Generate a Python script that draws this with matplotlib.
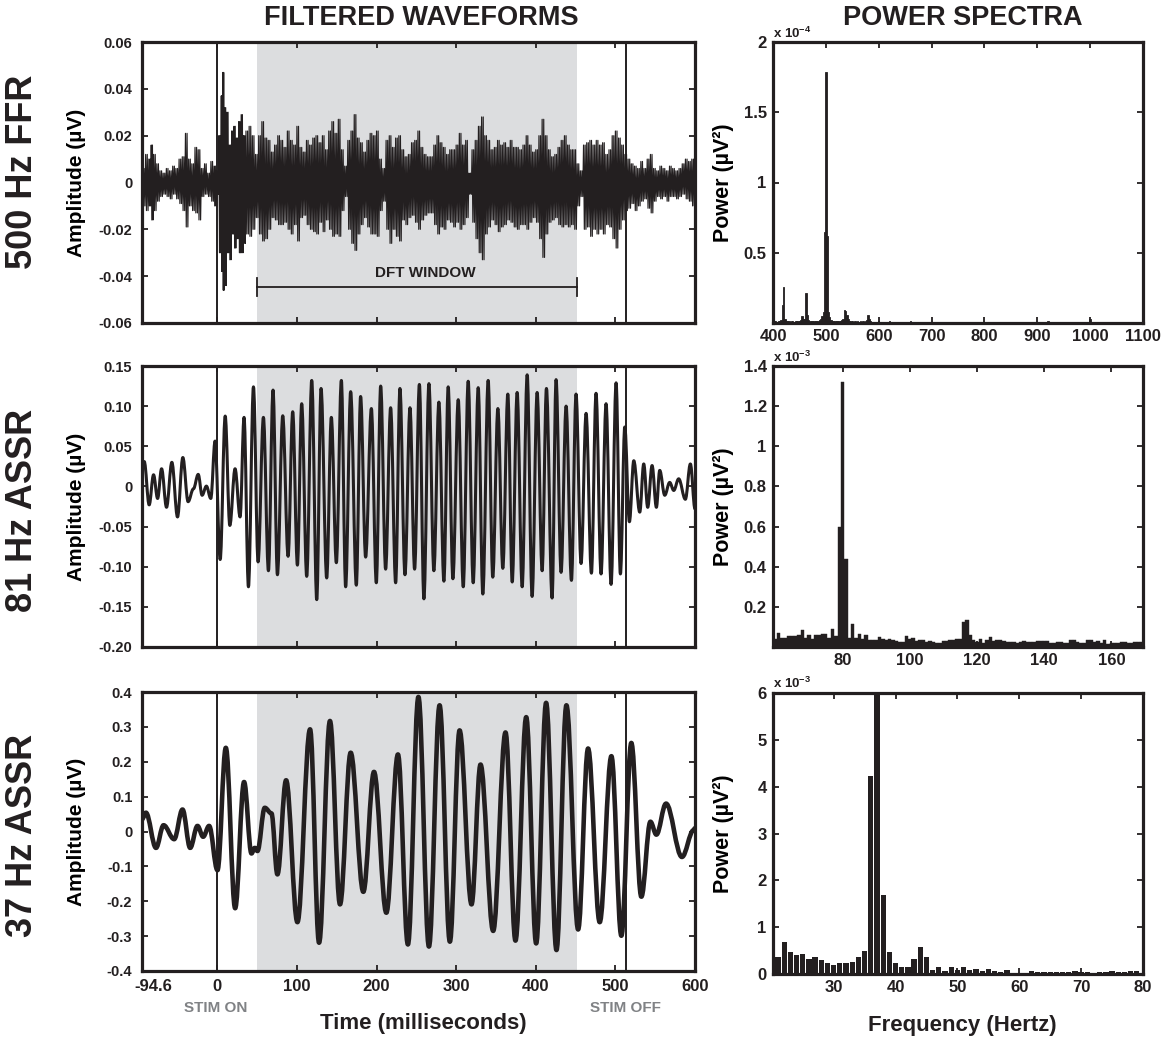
import numpy as np
import matplotlib
matplotlib.use("Agg")
import matplotlib.pyplot as plt
from matplotlib.path import Path
from matplotlib.patches import PathPatch
import matplotlib.transforms as mtransforms

# ------------------------------------------------------------------ data
# 500 Hz FFR : envelope (upper / lower extent) of the filtered waveform
ffr_t = [-94, -90, -86, -83, -80, -76, -72, -68, -64, -60, -56, -52, -48, -44, -40, -36, -32, -28, -24, -20,
         -16, -12, -8, -4, -1,
         2, 5, 7, 9, 12, 15, 18, 21, 24, 27, 30, 33, 36, 40, 44, 48, 52, 56, 60, 64, 68, 72, 76, 80,
         84, 88, 92, 96, 100, 104, 108, 112, 116, 120, 124, 128, 132, 136, 140, 144, 148, 152, 156, 160,
         164, 168, 172, 176, 180, 184, 188, 192, 196, 200, 204, 208, 212, 216, 220, 224, 228, 232, 236, 240,
         244, 248, 252, 256, 260, 264, 268, 272, 276, 280, 284, 288, 292, 296, 300, 304, 308, 312, 316, 320,
         324, 328, 332, 336, 340, 344, 348, 352, 356, 360, 364, 368, 372, 376, 380, 384, 388, 392, 396, 400,
         404, 408, 412, 416, 420, 424, 428, 432, 436, 440, 444, 448, 452, 456, 460, 464, 468, 472, 476, 480,
         484, 488, 492, 496, 500, 504, 508, 512, 516, 520, 524, 528, 532, 536, 540, 544, 548, 552, 556, 560,
         564, 568, 572, 576, 580, 584, 588, 592, 596, 600]
ffr_up = [.006, .012, .010, .016, .012, .008, .005, .004, .006, .005, .007, .006, .010, .011, .021, .010, .008, .015, .014, .006,
          .008, .004, .009, .007, .005,
          .020, .037, .047, .032, .030, .016, .022, .024, .019, .026, .029, .020, .022, .024, .020, .012, .020, .026, .019, .018, .013, .016, .020, .018,
          .015, .022, .018, .016, .024, .015, .013, .018, .016, .019, .020, .017, .020, .014, .022, .026, .021, .027, .014, .007,
          .018, .022, .029, .019, .017, .013, .018, .021, .020, .022, .010, .006, .018, .020, .015, .019, .020, .014, .011, .012,
          .017, .018, .022, .015, .012, .011, .011, .016, .020, .017, .015, .012, .014, .014, .016, .021, .016, .018, .004, .014,
          .018, .024, .028, .020, .018, .014, .015, .018, .016, .017, .015, .018, .015, .015, .014, .016, .020, .016, .013, .014,
          .020, .027, .020, .014, .011, .012, .015, .018, .020, .016, .014, .014, .008, .005, .016, .017, .018, .016, .018, .016,
          .017, .012, .014, .020, .022, .019, .016, .012, .010, .008, .007, .006, .009, .006, .010, .012, .006, .005, .007, .006,
          .005, .007, .006, .005, .006, .008, .010, .009, .010, .008]
ffr_lo = [-.010, -.012, -.010, -.016, -.012, -.008, -.006, -.005, -.006, -.007, -.005, -.007, -.009, -.012, -.019, -.010, -.012, -.013, -.016, -.006,
          -.005, -.006, -.008, -.010, -.005,
          -.030, -.038, -.046, -.044, -.030, -.033, -.022, -.028, -.024, -.030, -.030, -.026, -.022, -.023, -.020, -.015, -.022, -.025, -.024, -.020, -.015, -.016, -.018, -.018,
          -.017, -.020, -.022, -.018, -.025, -.015, -.014, -.018, -.020, -.021, -.022, -.017, -.021, -.016, -.020, -.023, -.022, -.023, -.012, -.006,
          -.020, -.026, -.029, -.022, -.018, -.015, -.019, -.022, -.022, -.023, -.012, -.008, -.020, -.026, -.020, -.023, -.025, -.016, -.018, -.015,
          -.014, -.017, -.020, -.016, -.014, -.013, -.013, -.018, -.022, -.019, -.020, -.016, -.017, -.019, -.017, -.020, -.018, -.015, -.005, -.017,
          -.024, -.030, -.033, -.022, -.019, -.016, -.018, -.021, -.019, -.018, -.016, -.017, -.019, -.020, -.018, -.018, -.020, -.017, -.015, -.017,
          -.024, -.032, -.022, -.017, -.016, -.015, -.018, -.019, -.018, -.019, -.018, -.020, -.010, -.006, -.020, -.019, -.023, -.020, -.022, -.020,
          -.022, -.018, -.019, -.024, -.028, -.020, -.016, -.012, -.011, -.009, -.012, -.010, -.008, -.007, -.011, -.013, -.008, -.006, -.007, -.006,
          -.008, -.006, -.006, -.007, -.006, -.005, -.007, -.008, -.010, -.011]

# 81 Hz ASSR : successive peaks / troughs (time ms, amplitude uV)
a81_t = [-94.6, -91.8, -85.6, -80.1, -75.0, -70.0, -63.8, -57.1, -50.0, -43.3, -36.7, -30.0, -24.0, -19.1, -13.7, -8.2,
         -2.8, 3.6, 9.9, 15.7, 22.3, 28.6, 33.6, 39.1, 45.4, 51.2, 57.9, 64.2, 70.0, 75.5, 82.2, 88.9, 94.7, 100.6,
         106.0, 112.3, 118.6, 124.9, 130.3, 137.4, 143.2, 149.5, 155.8, 161.2, 167.5, 174.6, 180.0, 186.3, 193.5,
         199.7, 205.2, 211.4, 217.7, 224.0, 229.4, 235.7, 242.0, 247.8, 253.8, 259.5, 265.8, 272.0, 278.3, 284.6,
         290.0, 295.9, 302.6, 308.9, 315.1, 321.4, 327.7, 333.5, 340.2, 346.0, 352.4, 358.6, 364.9, 370.4, 376.6,
         382.9, 389.2, 395.4, 401.7, 408.0, 413.4, 420.5, 425.5, 431.8, 438.1, 444.8, 450.6, 456.9, 463.2, 469.9,
         475.7, 482.0, 488.3, 494.6, 500.9, 506.3, 511.8, 517.6, 523.1, 530.6, 535.6, 540.6, 546.1, 551.5, 555.7,
         562.0, 568.2, 573.3, 579.5, 587.9, 594.2, 600.0]
a81_v = [0.025, 0.031, -0.023, 0.0145, -0.015, 0.022, -0.026, 0.030, -0.038, 0.036, -0.019, -0.003, 0.015, -0.011,
         0.0004, -0.015, 0.0565, -0.091, 0.0876, -0.0486, 0.022, -0.038, 0.086, -0.125, 0.124, -0.094, 0.086, -0.105,
         0.120, -0.110, 0.088, -0.087, 0.093, -0.098, 0.103, -0.112, 0.132, -0.141, 0.122, -0.114, 0.086, -0.095,
         0.132, -0.125, 0.118, -0.123, 0.112, -0.088, 0.097, -0.120, 0.125, -0.103, 0.098, -0.120, 0.122, -0.110,
         0.098, -0.103, 0.127, -0.140, 0.128, -0.105, 0.105, -0.118, 0.124, -0.115, 0.108, -0.125, 0.131, -0.120,
         0.123, -0.134, 0.132, -0.113, 0.097, -0.102, 0.115, -0.119, 0.117, -0.125, 0.139, -0.137, 0.117, -0.105,
         0.122, -0.139, 0.133, -0.107, 0.100, -0.117, 0.115, -0.096, 0.091, -0.108, 0.116, -0.109, 0.103, -0.122,
         0.129, -0.109, 0.074, -0.044, 0.032, -0.032, 0.028, -0.026, 0.026, -0.026, 0.020, -0.011, 0.005, -0.005,
         0.0095, -0.016, 0.028, -0.028]

# 37 Hz ASSR : successive peaks / troughs (time ms, amplitude uV)
a37_t = [-94.6, -89.7, -77.0, -67.5, -54.2, -43.7, -34.1, -24.9, -17.8, -10.3, 0.2, 10.7, 22.4, 33.6, 42.9, 47.0,
         50.4, 59.6, 68.0, 75.5, 86.4, 100.6, 116.5, 127.8, 141.5, 154.1, 167.5, 183.4, 196.8, 212.3, 226.9, 239.4,
         252.6, 265.8, 279.2, 292.1, 304.3, 319.3, 330.6, 346.5, 362.0, 374.5, 388.0, 400.5, 413.0, 426.0, 438.5,
         453.2, 465.7, 480.3, 495.0, 507.5, 520.0, 532.6, 544.0, 551.5, 563.6, 583.6, 598.3, 600.0]
a37_v = [0.035, 0.054, -0.047, 0.018, -0.022, 0.063, -0.047, 0.016, -0.015, 0.016, -0.111, 0.240, -0.220, 0.142,
         -0.063, -0.047, -0.056, 0.068, 0.052, -0.123, 0.147, -0.260, 0.293, -0.319, 0.317, -0.209, 0.226, -0.173,
         0.171, -0.233, 0.221, -0.324, 0.386, -0.330, 0.362, -0.316, 0.290, -0.209, 0.192, -0.285, 0.284, -0.313,
         0.328, -0.321, 0.369, -0.340, 0.362, -0.281, 0.238, -0.260, 0.216, -0.299, 0.254, -0.187, 0.028, -0.009,
         0.080, -0.073, 0.004, 0.010]

# power spectra
top_f = [400.0, 402.5, 405.0, 407.5, 410.0, 412.5, 415.0, 417.5, 420.0, 422.5, 425.0, 427.5, 430.0, 432.5, 435.0,
         437.5, 440.0, 442.5, 445.0, 447.5, 450.0, 452.5, 455.0, 457.5, 460.0, 462.5, 465.0, 467.5, 470.0, 472.5,
         475.0, 477.5, 480.0, 482.5, 485.0, 487.5, 490.0, 492.5, 495.0, 497.5, 500.0, 502.5, 505.0, 507.5, 510.0,
         512.5, 515.0, 517.5, 520.0, 522.5, 525.0, 527.5, 530.0, 532.5, 535.0, 537.5, 540.0, 542.5, 545.0, 547.5,
         550.0, 552.5, 555.0, 557.5, 560.0, 562.5, 565.0, 567.5, 570.0, 572.5, 575.0, 577.5, 580.0, 582.5, 585.0,
         587.5, 590.0, 600, 620, 640, 660, 700, 760, 840, 920, 960, 1000, 1040]
top_p = [0.010, 0.012, 0.015, 0.010, 0.012, 0.015, 0.020, 0.130, 0.256, 0.030, 0.015, 0.012, 0.015, 0.010, 0.012,
         0.015, 0.010, 0.012, 0.015, 0.012, 0.015, 0.020, 0.050, 0.030, 0.030, 0.216, 0.060, 0.020, 0.015, 0.012,
         0.015, 0.012, 0.015, 0.012, 0.015, 0.020, 0.030, 0.050, 0.080, 0.650, 1.790, 0.620, 0.080, 0.040, 0.020,
         0.015, 0.012, 0.015, 0.012, 0.015, 0.012, 0.015, 0.020, 0.030, 0.095, 0.085, 0.055, 0.030, 0.015, 0.012,
         0.012, 0.010, 0.012, 0.010, 0.012, 0.010, 0.012, 0.010, 0.012, 0.010, 0.015, 0.020, 0.060, 0.030, 0.012,
         0.010, 0.008, 0.012, 0.014, 0.006, 0.014, 0.006, 0.004, 0.004, 0.013, 0.006, 0.026, 0.005]   # x 1e-4

mid_f = list(range(60, 170))
mid_p = [0.04, 0.071, 0.045, 0.045, 0.053, 0.053, 0.053, 0.058, 0.086, 0.045, 0.06, 0.04, 0.058, 0.058, 0.066,
         0.066, 0.045, 0.088, 0.053, 0.60, 1.32, 0.44, 0.045, 0.116, 0.045, 0.063, 0.04, 0.06, 0.037, 0.033,
         0.033, 0.05, 0.04, 0.033, 0.038, 0.036, 0.03, 0.025, 0.025, 0.053, 0.04, 0.046, 0.028, 0.035, 0.035,
         0.025, 0.028, 0.025, 0.022, 0.022, 0.03, 0.03, 0.035, 0.035, 0.04, 0.038, 0.125, 0.133, 0.058, 0.035,
         0.025, 0.04, 0.02, 0.036, 0.048, 0.028, 0.036, 0.033, 0.028, 0.025, 0.025, 0.025, 0.022, 0.025, 0.028,
         0.025, 0.025, 0.025, 0.028, 0.028, 0.03, 0.03, 0.018, 0.02, 0.025, 0.025, 0.018, 0.018, 0.033, 0.033,
         0.025, 0.02, 0.02, 0.033, 0.033, 0.025, 0.028, 0.02, 0.033, 0.015, 0.02, 0.02, 0.02, 0.025, 0.025,
         0.022, 0.022, 0.025, 0.025, 0.025]   # x 1e-3

low_f = list(range(21, 80))
low_p = [0.36, 0.68, 0.46, 0.41, 0.43, 0.31, 0.36, 0.29, 0.23, 0.20, 0.23, 0.23, 0.26, 0.36, 0.50, 4.22, 5.95,
         1.68, 0.48, 0.23, 0.16, 0.16, 0.31, 0.57, 0.37, 0.09, 0.16, 0.07, 0.14, 0.09, 0.14, 0.09, 0.11, 0.07,
         0.11, 0.07, 0.05, 0.09, 0.03, 0.03, 0.03, 0.07, 0.05, 0.05, 0.04, 0.05, 0.04, 0.05, 0.07, 0.05, 0.05,
         0.03, 0.05, 0.05, 0.07, 0.05, 0.04, 0.06, 0.07]   # x 1e-3

row_labels = ["500 Hz FFR", "81 Hz ASSR", "37 Hz ASSR"]
stim_on, stim_off = 0, 513
dft_window = (50, 452)

# ------------------------------------------------------------------ style
plt.rcParams['font.family'] = ['Liberation Sans', 'DejaVu Sans']
plt.rcParams['font.weight'] = 'bold'
plt.rcParams['axes.labelweight'] = 'bold'
plt.rcParams['mathtext.fontset'] = 'custom'
plt.rcParams['mathtext.rm'] = 'Liberation Sans'
plt.rcParams['mathtext.bf'] = 'Liberation Sans:bold'
plt.rcParams['mathtext.default'] = 'bf'

INK = '#231f20'
GREY_TXT = '#808285'
SHADE = '#dcdddf'

W, H = 1170, 1038
fig = plt.figure(figsize=(W / 100, H / 100), dpi=100)


def ax_px(l, t, r, b):
    return fig.add_axes([l / W, 1 - b / H, (r - l) / W, (b - t) / H])


def style(ax, ylab_size, xlab_size, ypad, xpad):
    for s in ax.spines.values():
        s.set_linewidth(2.3)
        s.set_color(INK)
    ax.tick_params(direction='in', top=True, right=True, length=4.5, width=1.3, colors=INK)
    ax.tick_params(axis='y', labelsize=ylab_size, pad=ypad)
    ax.tick_params(axis='x', labelsize=xlab_size, pad=xpad)


def smooth_path(ts, vs):
    verts = [(ts[0], vs[0])]
    codes = [Path.MOVETO]
    for i in range(len(ts) - 1):
        dt = ts[i + 1] - ts[i]
        verts += [(ts[i] + 0.364 * dt, vs[i]), (ts[i + 1] - 0.364 * dt, vs[i + 1]), (ts[i + 1], vs[i + 1])]
        codes += [Path.CURVE4] * 3
    return Path(verts, codes)


L1 = ax_px(142, 42, 695, 323)
L2 = ax_px(142, 366, 695, 647)
L3 = ax_px(142, 692, 695, 971)
R1 = ax_px(773, 42, 1143, 323)
R2 = ax_px(773, 366, 1143, 647)
R3 = ax_px(773, 693, 1143, 974)

xt = [0, 100, 200, 300, 400, 500, 600]
for ax in (L1, L2, L3):
    ax.set_xlim(-94.6, 600)
    ax.axvspan(dft_window[0], dft_window[1], color=SHADE, lw=0, zorder=0)
    ax.axvline(stim_on, color=INK, lw=1.4, zorder=3)
    ax.axvline(stim_off, color=INK, lw=1.4, zorder=3)
    ax.set_xticks(xt)
    style(ax, 10.5, 12, 7, 5.5)
    ax.set_ylabel('Amplitude (µV)', fontsize=15)
    ax.yaxis.set_label_coords((86 - 142) / 553, 0.5)
L1.set_xticklabels([])
L2.set_xticklabels([])

# --- 500 Hz FFR : two oscillations drawn inside each envelope interval
t = np.array(ffr_t, float)
d = np.append(np.diff(t), 1.0)
xs = np.column_stack([t, t + d / 4, t + d / 2, t + 3 * d / 4]).ravel()
ys = np.column_stack([ffr_up, ffr_lo, ffr_up, ffr_lo]).ravel()
L1.plot(xs, ys, color=INK, lw=0.85, zorder=2)
L1.set_ylim(-0.06, 0.06)
L1.set_yticks([-0.06, -0.04, -0.02, 0, 0.02, 0.04, 0.06])
L1.set_yticklabels(['-0.06', '-0.04', '-0.02', '0', '0.02', '0.04', '0.06'])
yb = -0.0446
L1.plot(dft_window, [yb, yb], color=INK, lw=1.3, zorder=3)
for xe in dft_window:
    L1.plot([xe, xe], [yb - 0.0038, yb + 0.0038], color=INK, lw=1.3, zorder=3)
L1.text(261, -0.0388, 'DFT WINDOW', ha='center', va='center', fontsize=11, color=INK)

# --- 81 Hz ASSR
L2.add_patch(PathPatch(smooth_path(a81_t, a81_v), fill=False, ec=INK, lw=2.2, zorder=2, joinstyle='round'))
L2.set_ylim(-0.20, 0.15)
L2.set_yticks([-0.20, -0.15, -0.10, -0.05, 0, 0.05, 0.10, 0.15])
L2.set_yticklabels(['-0.20', '-0.15', '-0.10', '-0.05', '0', '0.05', '0.10', '0.15'])

# --- 37 Hz ASSR
L3.add_patch(PathPatch(smooth_path(a37_t, a37_v), fill=False, ec=INK, lw=3.3, zorder=2, joinstyle='round'))
L3.set_ylim(-0.4, 0.4)
L3.set_yticks([-0.4, -0.3, -0.2, -0.1, 0, 0.1, 0.2, 0.3, 0.4])
L3.set_yticklabels(['-0.4', '-0.3', '-0.2', '-0.1', '0', '0.1', '0.2', '0.3', '0.4'])
L3.set_xticklabels([str(v) for v in xt])
L3.annotate('-94.6', xy=(-80.8, 0), xycoords=('data', 'axes fraction'), xytext=(0, -5.5),
            textcoords='offset points', ha='center', va='top', fontsize=12, color=INK)
bt = mtransforms.blended_transform_factory(L3.transData, fig.transFigure)
L3.text(stim_on - 2, 1 - 1008 / H, 'STIM ON', transform=bt, ha='center', va='center', fontsize=11, color=GREY_TXT)
L3.text(stim_off, 1 - 1008 / H, 'STIM OFF', transform=bt, ha='center', va='center', fontsize=11, color=GREY_TXT)

# --- spectra
R1.bar(top_f, top_p, width=2.5, color=INK, edgecolor=INK, lw=0.6)
R1.set_xlim(400, 1100)
R1.set_ylim(0, 2)
R1.set_xticks([400, 500, 600, 700, 800, 900, 1000, 1100])
R1.set_yticks([0.5, 1, 1.5, 2])
R1.set_yticklabels(['0.5', '1', '1.5', '2'])

R2.bar(mid_f, mid_p, width=1.0, color=INK, edgecolor=INK, lw=0.3)
R2.set_xlim(59.3, 169.4)
R2.set_ylim(0, 1.4)
R2.set_xticks([80, 100, 120, 140, 160])
R2.set_yticks([0.2, 0.4, 0.6, 0.8, 1.0, 1.2, 1.4])
R2.set_yticklabels(['0.2', '0.4', '0.6', '0.8', '1', '1.2', '1.4'])

R3.bar(low_f, low_p, width=0.85, color=INK, lw=0)
R3.set_xlim(20.2, 80)
R3.set_ylim(0, 6)
R3.set_xticks([30, 40, 50, 60, 70, 80])
R3.set_yticks([0, 1, 2, 3, 4, 5, 6])

for ax, exp, ytop in ((R1, '-4', 33), (R2, '-3', 357), (R3, '-3', 683)):
    style(ax, 12, 12, 4.5, 4)
    ax.set_ylabel('Power (µV²)', fontsize=15.5)
    ax.yaxis.set_label_coords((734 - 773) / 370, 0.5)
    fig.text(773 / W, 1 - ytop / H, 'x 10$^{' + exp + '}$', ha='left', va='center', fontsize=9.5, color=INK)

# --- headings and axis titles
fig.text(421 / W, 1 - 18 / H, 'FILTERED WAVEFORMS', ha='center', va='center', fontsize=19.5, color=INK)
fig.text(963 / W, 1 - 18 / H, 'POWER SPECTRA', ha='center', va='center', fontsize=19.5, color=INK)
for lab, yc in zip(row_labels, (172, 510, 835)):
    fig.text(23 / W, 1 - yc / H, lab, rotation=90, ha='center', va='center', fontsize=26, color=INK)
fig.text(423 / W, 1 - 1023 / H, 'Time (milliseconds)', ha='center', va='center', fontsize=16, color=INK)
fig.text(962 / W, 1 - 1025 / H, 'Frequency (Hertz)', ha='center', va='center', fontsize=16, color=INK)

fig.savefig('out.png', dpi=100)
